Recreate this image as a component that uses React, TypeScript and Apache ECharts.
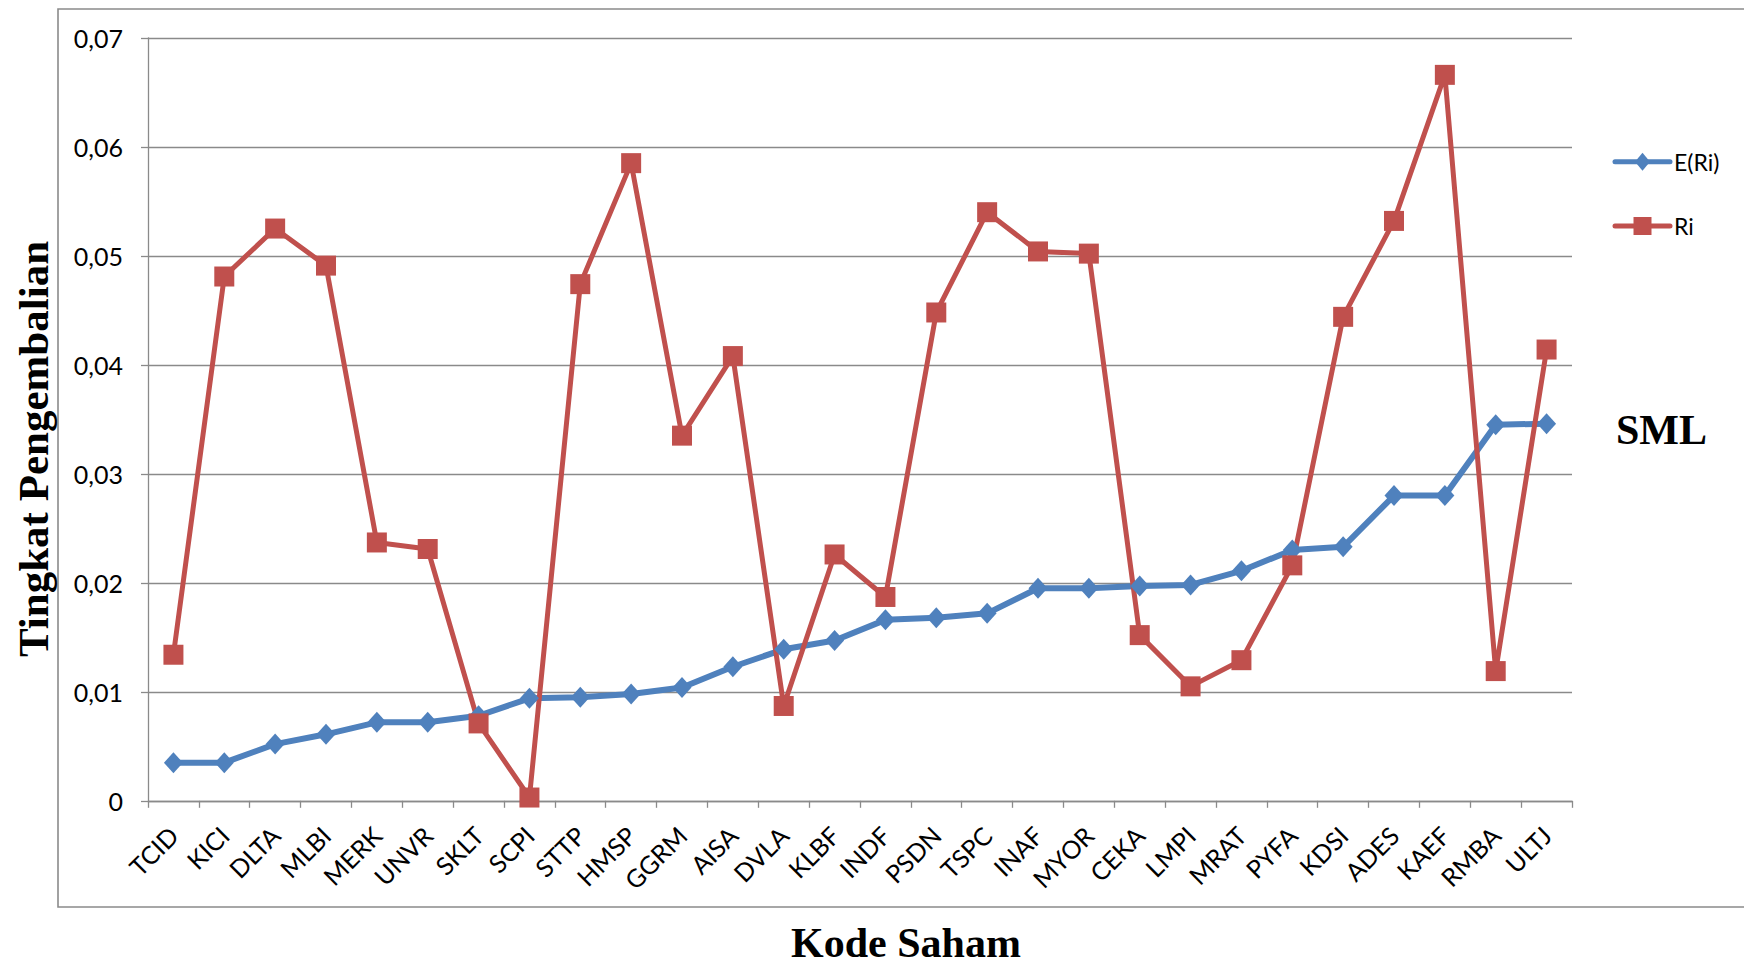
import React, { useEffect, useRef } from "react";
import * as echarts from "echarts";

const categories = ["TCID","KICI","DLTA","MLBI","MERK","UNVR","SKLT","SCPI","STTP","HMSP","GGRM","AISA","DVLA","KLBF","INDF","PSDN","TSPC","INAF","MYOR","CEKA","LMPI","MRAT","PYFA","KDSI","ADES","KAEF","RMBA","ULTJ"];

const expectedReturn = [0.0035,0.0035,0.0052,0.0061,0.0072,0.0072,0.0078,0.0094,0.0095,0.0098,0.0104,0.0123,0.0139,0.0147,0.0166,0.0168,0.0172,0.0195,0.0195,0.0197,0.0198,0.0211,0.0230,0.0233,0.0280,0.0280,0.0345,0.0346];

const actualReturn = [0.0134,0.0481,0.0525,0.0491,0.0237,0.0231,0.0071,0.0003,0.0474,0.0585,0.0335,0.0408,0.0087,0.0226,0.0187,0.0448,0.0540,0.0504,0.0502,0.0152,0.0105,0.0129,0.0216,0.0444,0.0532,0.0666,0.0119,0.0414];

const seriesNames = ["E(Ri)", "Ri"];
const yTitle = "Tingkat Pengembalian";
const xTitle = "Kode Saham";
const sideNote = "SML";

const GRAY = "#8a8a8a";
const BLUE = "#4F81BD";
const RED = "#C0504D";
const SANS = "Lato";
const SERIF = "'Liberation Serif', 'DejaVu Serif', serif";

// legend layout (pixels)
const LEG_X0 = 1615;
const LEG_X1 = 1670;
const LEG_Y = [161.7, 226];

export default function App() {
  const ref = useRef<HTMLDivElement>(null);
  useEffect(() => {
    if (!ref.current) return;
    const chart = echarts.init(ref.current, null, { renderer: "svg" });
    const mid = (LEG_X0 + LEG_X1) / 2;
    const legendGraphics: any[] = [
      {
        type: "line",
        silent: true,
        shape: { x1: LEG_X0, y1: LEG_Y[0], x2: LEG_X1, y2: LEG_Y[0] },
        style: { stroke: BLUE, lineWidth: 5, lineCap: "round" },
      },
      {
        type: "polygon",
        silent: true,
        shape: {
          points: [
            [mid, LEG_Y[0] - 9],
            [mid + 7.5, LEG_Y[0]],
            [mid, LEG_Y[0] + 9],
            [mid - 7.5, LEG_Y[0]],
          ],
        },
        style: { fill: BLUE },
      },
      {
        type: "text",
        x: LEG_X1 + 4,
        y: LEG_Y[0],
        style: { text: seriesNames[0], font: `23px ${SANS}`, fill: "#000", align: "left", verticalAlign: "middle" },
      },
      {
        type: "line",
        silent: true,
        shape: { x1: LEG_X0, y1: LEG_Y[1], x2: LEG_X1, y2: LEG_Y[1] },
        style: { stroke: RED, lineWidth: 5, lineCap: "round" },
      },
      {
        type: "rect",
        silent: true,
        shape: { x: mid - 9, y: LEG_Y[1] - 9, width: 18, height: 18 },
        style: { fill: RED },
      },
      {
        type: "text",
        x: LEG_X1 + 4,
        y: LEG_Y[1],
        style: { text: seriesNames[1], font: `23px ${SANS}`, fill: "#000", align: "left", verticalAlign: "middle" },
      },
    ];
    chart.setOption({
      animation: false,
      backgroundColor: "#ffffff",
      grid: { left: 148, right: 172, top: 37.8, bottom: 164.2, containLabel: false },
      xAxis: {
        type: "category",
        data: categories,
        boundaryGap: true,
        axisLine: { show: true, lineStyle: { color: GRAY, width: 1.3 } },
        axisTick: { show: true, length: 7, lineStyle: { color: GRAY, width: 1.3 } },
        axisLabel: { interval: 0, rotate: 45, margin: 30, fontFamily: SANS, fontSize: 25, color: "#000" },
        splitLine: { show: false },
      },
      yAxis: {
        type: "value",
        min: 0,
        max: 0.07,
        interval: 0.01,
        axisLine: { show: true, lineStyle: { color: GRAY, width: 1.3 } },
        axisTick: { show: true, length: 7, lineStyle: { color: GRAY, width: 1.3 } },
        splitLine: { show: true, lineStyle: { color: GRAY, width: 1.3 } },
        axisLabel: {
          margin: 25,
          fontFamily: SANS,
          fontSize: 25,
          color: "#000",
          formatter: (v: number) => (v === 0 ? "0" : v.toFixed(2).replace(".", ",")),
        },
      },
      series: [
        {
          name: seriesNames[0],
          type: "line",
          data: expectedReturn,
          symbol: "diamond",
          symbolSize: [19, 21],
          lineStyle: { color: BLUE, width: 6 },
          itemStyle: { color: BLUE },
        },
        {
          name: seriesNames[1],
          type: "line",
          data: actualReturn,
          symbol: "rect",
          symbolSize: 20,
          lineStyle: { color: RED, width: 5 },
          itemStyle: { color: RED },
        },
      ],
      graphic: [
        {
          type: "polyline",
          silent: true,
          shape: { points: [[1800, 9], [58, 9], [58, 907], [1800, 907]] },
          style: { stroke: GRAY, lineWidth: 1.6, fill: null },
        },
        ...legendGraphics,
        {
          type: "text",
          x: 33,
          y: 449,
          rotation: Math.PI / 2,
          style: {
            text: yTitle,
            font: `bold 43px ${SERIF}`,
            fill: "#000",
            align: "center",
            verticalAlign: "middle",
          },
        },
        {
          type: "text",
          x: 906,
          y: 943,
          style: {
            text: xTitle,
            font: `bold 42px ${SERIF}`,
            fill: "#000",
            align: "center",
            verticalAlign: "middle",
          },
        },
        {
          type: "text",
          x: 1616,
          y: 430,
          style: {
            text: sideNote,
            font: `bold 42px ${SERIF}`,
            fill: "#000",
            align: "left",
            verticalAlign: "middle",
          },
        },
      ],
    });
    return () => chart.dispose();
  }, []);
  return (
    <div
      ref={ref}
      style={{ position: "fixed", left: 0, top: 0, width: 1744, height: 965, background: "#fff" }}
    />
  );
}
